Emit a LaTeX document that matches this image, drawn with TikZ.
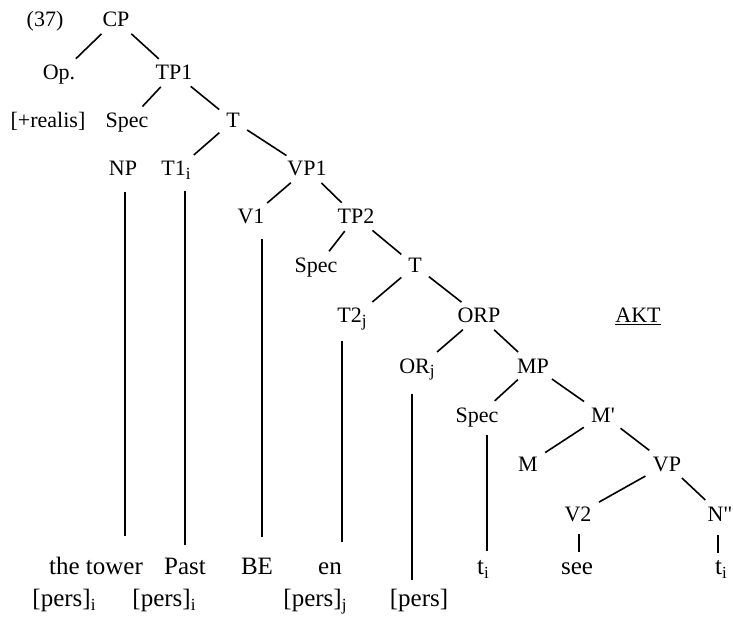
\documentclass[tikz,border=0pt]{standalone}
\usepackage{fontspec}
\setmainfont{Liberation Serif}
\newcommand{\ind}[1]{\raisebox{-0.35ex}{\fontsize{17}{17}\selectfont #1}}
\begin{document}
\begin{tikzpicture}[x=1pt,y=-1pt,
    cat/.style={font=\fontsize{22}{24}\selectfont, inner sep=3pt, anchor=base},
    hoja/.style={font=\fontsize{25}{27}\selectfont, inner sep=2pt, anchor=base},
    rama/.style={line width=1.6pt, shorten <=5pt, shorten >=5pt},
    tallo/.style={line width=1.7pt}]
  \useasboundingbox (0,0) rectangle (733,617);

  % Categorias del arbol
  \node[cat] (num) at (45,27) {(37)};
  \node[cat] (CP) at (116,27) {CP};
  \node[cat] (Op) at (59,80) {Op.};
  \node[cat] (TP1) at (174,80) {TP1};
  \node[cat] (realis) at (48,128) {[+realis]};
  \node[cat] (Spec1) at (127,128) {Spec};
  \node[cat] (Tb1) at (233,128) {T};
  \node[cat] (NP) at (123,176) {NP};
  \node[cat] (T1) at (176,176) {T1\ind{i}};
  \node[cat] (VP1) at (307,176) {VP1};
  \node[cat] (V1) at (251,224) {V1};
  \node[cat] (TP2) at (356,224) {TP2};
  \node[cat] (Spec2) at (316,273) {Spec};
  \node[cat] (Tb2) at (415,273) {T};
  \node[cat] (T2) at (352,323) {T2\ind{j}};
  \node[cat] (ORP) at (479,323) {ORP};
  \node[cat] (AKT) at (638,323) {\underline{AKT}};
  \node[cat] (OR) at (417,373) {OR\ind{j}};
  \node[cat] (MP) at (533,373) {MP};
  \node[cat] (Spec3) at (477,422) {Spec};
  \node[cat] (Mb) at (603,422) {M\textquotesingle};
  \node[cat] (M) at (528,471) {M};
  \node[cat] (VP) at (667,471) {VP};
  \node[cat] (V2) at (578,521) {V2};
  \node[cat] (N) at (720,521) {N\textquotedbl};

  % Palabras
  \node[hoja] (tower) at (96,574) {the tower};
  \node[hoja] (Past) at (185,574) {Past};
  \node[hoja] (BE) at (257,574) {BE};
  \node[hoja] (en) at (330,574) {en};
  \node[hoja] (ti) at (483,574) {t\ind{i}};
  \node[hoja] (see) at (577,574) {see};
  \node[hoja] (tj) at (721,574) {t\ind{i}};
  \node[hoja] (pers1) at (64,606) {[pers]\ind{i}};
  \node[hoja] (pers2) at (164,606) {[pers]\ind{i}};
  \node[hoja] (pers3) at (315,606) {[pers]\ind{j}};
  \node[hoja] (pers4) at (419,606) {[pers]};

  % Ramas
  \foreach \a/\b in {CP/Op, CP/TP1, TP1/Spec1, TP1/Tb1, Tb1/T1, Tb1/VP1,
      VP1/V1, VP1/TP2, TP2/Spec2, TP2/Tb2, Tb2/T2, Tb2/ORP, ORP/OR, ORP/MP,
      MP/Spec3, MP/Mb, Mb/M, Mb/VP, VP/V2, VP/N}
    \draw[rama] (\a) -- (\b);

  % Tallos verticales
  \foreach \a/\b/\dx/\s/\e in {NP/tower/2/13/18, T1/Past/9/8/10, V1/BE/11/11/18,
      T2/en/-10/8/18, OR/pers4/-5/11/6, Spec3/ti/10/5/7, V2/see/1/9/8, N/tj/-2/11/5}
    \draw[tallo, shorten <=\s pt, shorten >=\e pt]
      ([xshift=\dx pt]\a.south) -- ([xshift=\dx pt]\a.south |- \b.north);
\end{tikzpicture}
\end{document}
